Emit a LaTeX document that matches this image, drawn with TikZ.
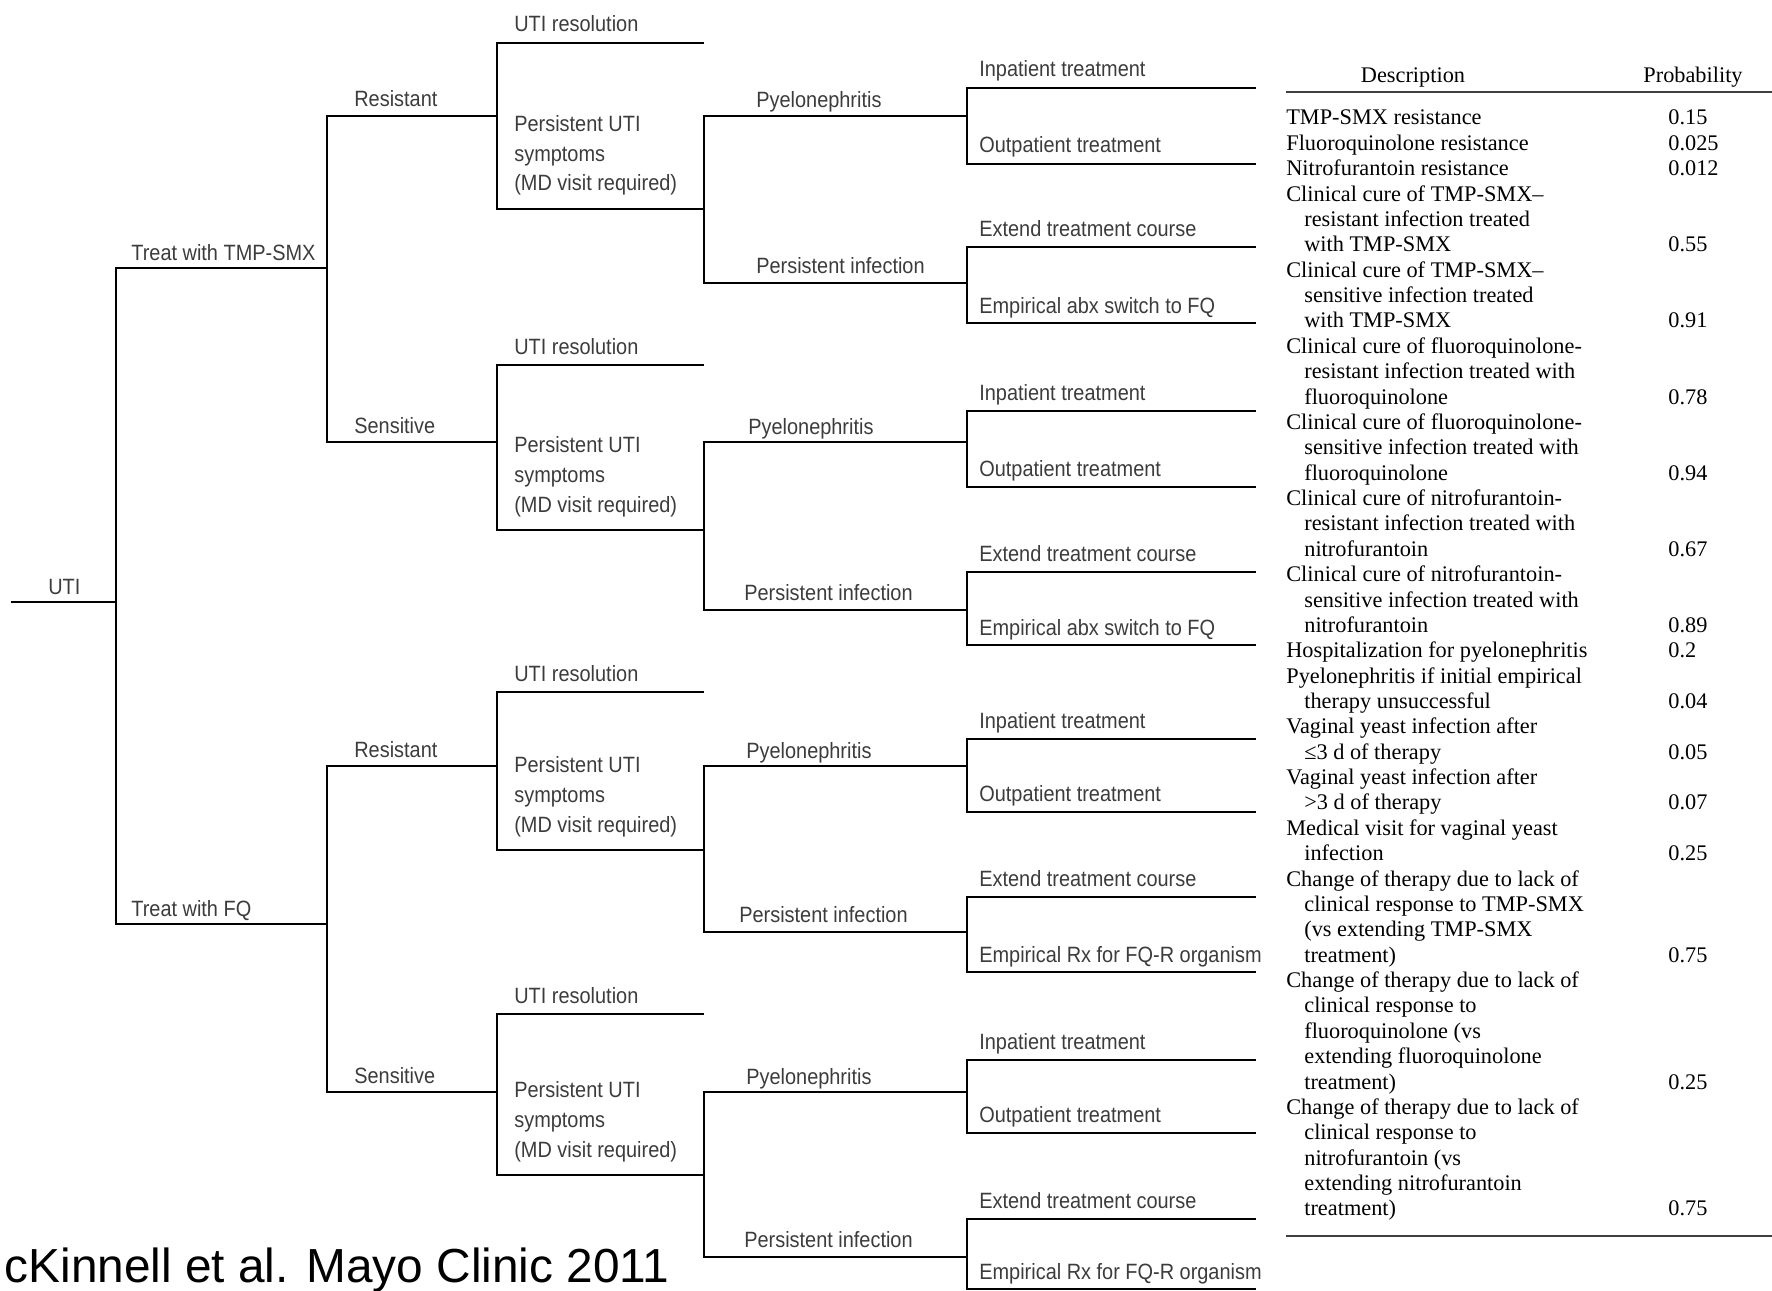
\documentclass[tikz,border=0pt]{standalone}
\usepackage{fontspec}
\setmainfont{Liberation Serif}
\newfontfamily\treefont[FakeStretch=0.9]{Liberation Sans}
\newfontfamily\capfont{Liberation Sans}
\usetikzlibrary{positioning}
\definecolor{labelgray}{HTML}{3C3C3C}
\tikzset{
    branch/.style={
        draw=black,
        line width=1.4pt,
    },
    lbl/.style={
        anchor=base west,
        inner sep=0pt,
        text=labelgray,
        font=\treefont\fontsize{12.6}{17}\selectfont,
    },
    desc/.style={
        anchor=base west,
        inner sep=0pt,
        font=\fontsize{12.7}{14.4}\selectfont,
    },
    rule/.style={
        draw=black!75,
        line width=1.2pt,
    }
}

\begin{document}
\begin{tikzpicture}[x=0.02cm,y=-0.02cm]
    \useasboundingbox (0,0) rectangle (1772,1291);
    % root and first choice
    \coordinate (uti0) at (11,602);
    \coordinate (root) at (116,602);
    \coordinate (tmp) at (327,268);
    \coordinate (fq) at (327,924);
    \draw[branch] (uti0) -- (root);
    \draw[branch] (root) |- (tmp);
    \draw[branch] (root) |- (fq);
    \node[lbl] (lUTI) at (48,594) {UTI};
    \node[lbl] (lTMP) at (131,260) {Treat with TMP-SMX};
    \node[lbl] (lFQ) at (131,916) {Treat with FQ};
    % four subtrees
    \foreach \k/\from/\kind/\R/\U/\P/\I/\a/\b/\c/\d/\xp/\xi/\emp in {
        1/tmp/Resistant/116/43/209/283/88/164/247/323/756/756/{Empirical abx switch to FQ},
        2/tmp/Sensitive/442/365/530/610/411/487/572/645/748/744/{Empirical abx switch to FQ},
        3/fq/Resistant/766/692/850/932/739/812/897/972/746/739/{Empirical Rx for FQ-R organism},
        4/fq/Sensitive/1092/1014/1175/1257/1060/1133/1219/1289/746/744/{Empirical Rx for FQ-R organism}}{
        \coordinate (s\k) at (497,\R);
        \coordinate (res\k) at (704,\U);
        \coordinate (pers\k) at (704,\P);
        \coordinate (py\k) at (967,\R);
        \coordinate (pi\k) at (967,\I);
        \coordinate (in\k) at (1256,\a);
        \coordinate (out\k) at (1256,\b);
        \coordinate (ext\k) at (1256,\c);
        \coordinate (emp\k) at (1256,\d);
        \draw[branch] (\from) |- (s\k);
        \draw[branch] (s\k) |- (res\k);
        \draw[branch] (s\k) |- (pers\k);
        \draw[branch] (pers\k) |- (py\k);
        \draw[branch] (pers\k) |- (pi\k);
        \draw[branch] (py\k) |- (in\k);
        \draw[branch] (py\k) |- (out\k);
        \draw[branch] (pi\k) |- (ext\k);
        \draw[branch] (pi\k) |- (emp\k);
        \node[lbl] (lk\k) at (354,{\R-9}) {\kind};
        \node[lbl] (lres\k) at (514,{\U-11}) {UTI resolution};
        \node[lbl,align=left] (lpers\k) at (514,{\P-18}) {Persistent UTI\\symptoms\\(MD visit required)};
        \node[lbl] (lpy\k) at (\xp,{\R-8}) {Pyelonephritis};
        \node[lbl] (lpi\k) at (\xi,{\I-10}) {Persistent infection};
        \node[lbl] (lin\k) at (979,{\a-11}) {Inpatient treatment};
        \node[lbl] (lout\k) at (979,{\b-11}) {Outpatient treatment};
        \node[lbl] (lext\k) at (979,{\c-11}) {Extend treatment course};
        \node[lbl] (lemp\k) at (979,{\d-10}) {\emp};
    }
    % table of probabilities
    \coordinate (htl) at (1286,92);
    \coordinate (htr) at (1772,92);
    \coordinate (hbl) at (1286,1236);
    \coordinate (hbr) at (1772,1236);
    \draw[rule] (htl) -- (htr);
    \draw[rule] (hbl) -- (hbr);
    \node[desc,anchor=base] (hdesc) at (1413,83) {Description};
    \node[desc,anchor=base] (hprob) at (1693,83) {Probability};
    \foreach \r/\ind/\t in {
        1/0/TMP-SMX resistance,
        2/0/Fluoroquinolone resistance,
        3/0/Nitrofurantoin resistance,
        4/0/Clinical cure of TMP-SMX--,
        5/1/resistant infection treated,
        6/1/with TMP-SMX,
        7/0/Clinical cure of TMP-SMX--,
        8/1/sensitive infection treated,
        9/1/with TMP-SMX,
        10/0/Clinical cure of fluoroquinolone-,
        11/1/resistant infection treated with,
        12/1/fluoroquinolone,
        13/0/Clinical cure of fluoroquinolone-,
        14/1/sensitive infection treated with,
        15/1/fluoroquinolone,
        16/0/Clinical cure of nitrofurantoin-,
        17/1/resistant infection treated with,
        18/1/nitrofurantoin,
        19/0/Clinical cure of nitrofurantoin-,
        20/1/sensitive infection treated with,
        21/1/nitrofurantoin,
        22/0/Hospitalization for pyelonephritis,
        23/0/Pyelonephritis if initial empirical,
        24/1/therapy unsuccessful,
        25/0/Vaginal yeast infection after,
        26/1/≤3 d of therapy,
        27/0/Vaginal yeast infection after,
        28/1/>3 d of therapy,
        29/0/Medical visit for vaginal yeast,
        30/1/infection,
        31/0/Change of therapy due to lack of,
        32/1/clinical response to TMP-SMX,
        33/1/(vs extending TMP-SMX,
        34/1/treatment),
        35/0/Change of therapy due to lack of,
        36/1/clinical response to,
        37/1/fluoroquinolone (vs,
        38/1/extending fluoroquinolone,
        39/1/treatment),
        40/0/Change of therapy due to lack of,
        41/1/clinical response to,
        42/1/nitrofurantoin (vs,
        43/1/extending nitrofurantoin,
        44/1/treatment)}{
        \node[desc] (d\r) at ({1286+18*\ind},{125+25.37*(\r-1)}) {\t};
    }
    \foreach \r/\v in {1/0.15,2/0.025,3/0.012,6/0.55,9/0.91,12/0.78,15/0.94,18/0.67,
        21/0.89,22/0.2,24/0.04,26/0.05,28/0.07,30/0.25,34/0.75,39/0.25,44/0.75}{
        \node[desc] (p\r) at (1668,{125+25.37*(\r-1)}) {\v};
    }
    % source
    \node[anchor=base east,inner sep=0pt,font=\capfont\fontsize{27.2}{32}\selectfont] (cite) at (670,1282) {McKinnell et al. Mayo Clinic 2011};
\end{tikzpicture}
\end{document}
